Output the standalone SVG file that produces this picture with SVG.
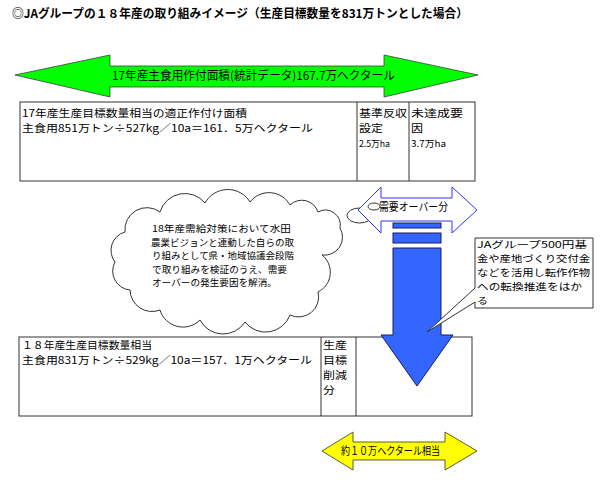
<svg xmlns="http://www.w3.org/2000/svg" width="600" height="480" viewBox="0 0 600 480">
<style>
text{font-family:"Noto Sans CJK JP","Noto Sans",sans-serif;fill:#000;}
.t12{font-size:12px;}
.tb{font-size:10.3px;}
.tc{font-size:9.6px;}
.tk{font-size:9.3px;}
.t11{font-size:11px;}
.cell{fill:#fff;stroke:#333;stroke-width:1;}
.ln{stroke:#333;stroke-width:1;fill:none;}
</style>
<rect width="600" height="480" fill="#fff"/>
<g id="title">
<text x="12" y="18" class="t12" font-weight="bold" textLength="456" lengthAdjust="spacingAndGlyphs">◎JAグループの１８年産の取り組みイメージ（生産目標数量を831万トンとした場合）</text>
</g>
<g id="green-arrow">
<polygon points="15,75 110,55 110,66 384,66 384,55 478,75 384,97 384,87 110,87 110,97" fill="#00ff00" stroke="#404040" stroke-width="0.8"/>
<text x="112" y="80" class="t12" textLength="283" lengthAdjust="spacingAndGlyphs">17年産主食用作付面積(統計データ)167.7万ヘクタール</text>
</g>
<g id="table1">
<rect x="20" y="102" width="455" height="79" class="cell"/>
<line x1="357" y1="102" x2="357" y2="181" class="ln"/>
<line x1="409" y1="102" x2="409" y2="181" class="ln"/>
<text x="22" y="117" class="tb" textLength="225" lengthAdjust="spacingAndGlyphs">17年産生産目標数量相当の適正作付け面積</text>
<text x="22" y="132" class="tb" textLength="291" lengthAdjust="spacingAndGlyphs">主食用851万トン÷527kg／10a＝161．5万ヘクタール</text>
<text x="359" y="117" class="tb" textLength="48" lengthAdjust="spacingAndGlyphs">基準反収</text>
<text x="359" y="132" class="tb" textLength="24" lengthAdjust="spacingAndGlyphs">設定</text>
<text x="359" y="147" font-size="9" textLength="31" lengthAdjust="spacingAndGlyphs">2.5万ha</text>
<text x="411" y="117" class="tb" textLength="52" lengthAdjust="spacingAndGlyphs">未達成要</text>
<text x="411" y="132" class="tb" textLength="12" lengthAdjust="spacingAndGlyphs">因</text>
<text x="411" y="147" font-size="9" textLength="35" lengthAdjust="spacingAndGlyphs">3.7万ha</text>
</g>
<g id="cloud">
<path d="M125,232 A22,22 0 0 1 160,212 A26,26 0 0 1 205,203 A26,26 0 0 1 250,202 A24,24 0 0 1 290,205 A17,17 0 0 1 318,212 A15,15 0 0 1 340,228 A18,18 0 0 1 322,255 A22,22 0 0 1 318,292 A20,20 0 0 1 290,315 A26,26 0 0 1 245,322 A26,26 0 0 1 200,320 A24,24 0 0 1 160,310 A22,22 0 0 1 130,290 A19,19 0 0 1 115,262 A19,19 0 0 1 125,232 Z" fill="#fff" stroke="#333" stroke-width="1"/>
<ellipse cx="359.5" cy="215.5" rx="12.5" ry="7.5" fill="#fff" stroke="#333" stroke-width="1"/>
<text x="152" y="232" class="tk" textLength="139" lengthAdjust="spacingAndGlyphs">18年産需給対策において水田</text>
<text x="151" y="245.5" class="tk" textLength="143" lengthAdjust="spacingAndGlyphs">農業ビジョンと連動した自らの取</text>
<text x="152" y="259" class="tk" textLength="142" lengthAdjust="spacingAndGlyphs">り組みとして県・地域協議会段階</text>
<text x="152" y="272.5" class="tk" textLength="135" lengthAdjust="spacingAndGlyphs">で取り組みを検証のうえ、需要</text>
<text x="152" y="286" class="tk" textLength="125" lengthAdjust="spacingAndGlyphs">オーバーの発生要因を解消。</text>
</g>
<g id="demand-over-arrow">
<polygon points="358,210 381,187 381,198 452,198 452,187 477,210 452,233 452,221 381,221 381,233" fill="#fff" stroke="#3333ff" stroke-width="1"/>
<ellipse cx="374" cy="206.5" rx="6" ry="3.5" fill="#fff" stroke="#333" stroke-width="1"/>
<text x="379" y="211" class="t11" textLength="69" lengthAdjust="spacingAndGlyphs">需要オーバー分</text>
</g>
<g id="table2">
<rect x="19" y="337" width="453" height="79" class="cell"/>
<line x1="321" y1="337" x2="321" y2="416" class="ln"/>
<line x1="356" y1="337" x2="356" y2="416" class="ln"/>
<text x="22" y="349" class="tb" textLength="130" lengthAdjust="spacingAndGlyphs">１８年産生産目標数量相当</text>
<text x="22" y="364" class="tb" textLength="290" lengthAdjust="spacingAndGlyphs">主食用831万トン÷529kg／10a＝157．1万ヘクタール</text>
<text x="323" y="349" class="tb" textLength="24" lengthAdjust="spacingAndGlyphs">生産</text>
<text x="323" y="364" class="tb" textLength="24" lengthAdjust="spacingAndGlyphs">目標</text>
<text x="323" y="379" class="tb" textLength="24" lengthAdjust="spacingAndGlyphs">削減</text>
<text x="323" y="394" class="tb" textLength="12" lengthAdjust="spacingAndGlyphs">分</text>
</g>
<g id="down-arrow">
<rect x="393" y="223" width="48" height="5" fill="#3366ff" stroke="#1a1a66" stroke-width="1"/>
<rect x="393" y="233" width="48" height="10" fill="#3366ff" stroke="#1a1a66" stroke-width="1"/>
<polygon points="393,248 441,248 441,335 453,335 417,386 381,335 393,335" fill="#3366ff" stroke="#1a1a66" stroke-width="1"/>
</g>
<g id="callout">
<path d="M475,238 L593,238 L593,308 L475,308 L475,302 L427,332 L475,288 Z" fill="#fff" stroke="#333" stroke-width="1"/>
<text x="477" y="248" class="tc" textLength="110" lengthAdjust="spacingAndGlyphs">JAグループ500円基</text>
<text x="477" y="262" class="tc" textLength="113" lengthAdjust="spacingAndGlyphs">金や産地づくり交付金</text>
<text x="477" y="276" class="tc" textLength="113" lengthAdjust="spacingAndGlyphs">などを活用し転作作物</text>
<text x="477" y="290" class="tc" textLength="105" lengthAdjust="spacingAndGlyphs">への転換推進をはか</text>
<text x="477" y="304" class="tc" textLength="11" lengthAdjust="spacingAndGlyphs">る</text>
</g>
<g id="yellow-arrow">
<polygon points="322,451 353,432 353,442 445,442 445,432 477,451 445,470 445,460 353,460 353,470" fill="#ffff00" stroke="#333" stroke-width="0.8"/>
<text x="341" y="455" class="t11" textLength="99" lengthAdjust="spacingAndGlyphs">約１０万ヘクタール相当</text>
</g>
</svg>
